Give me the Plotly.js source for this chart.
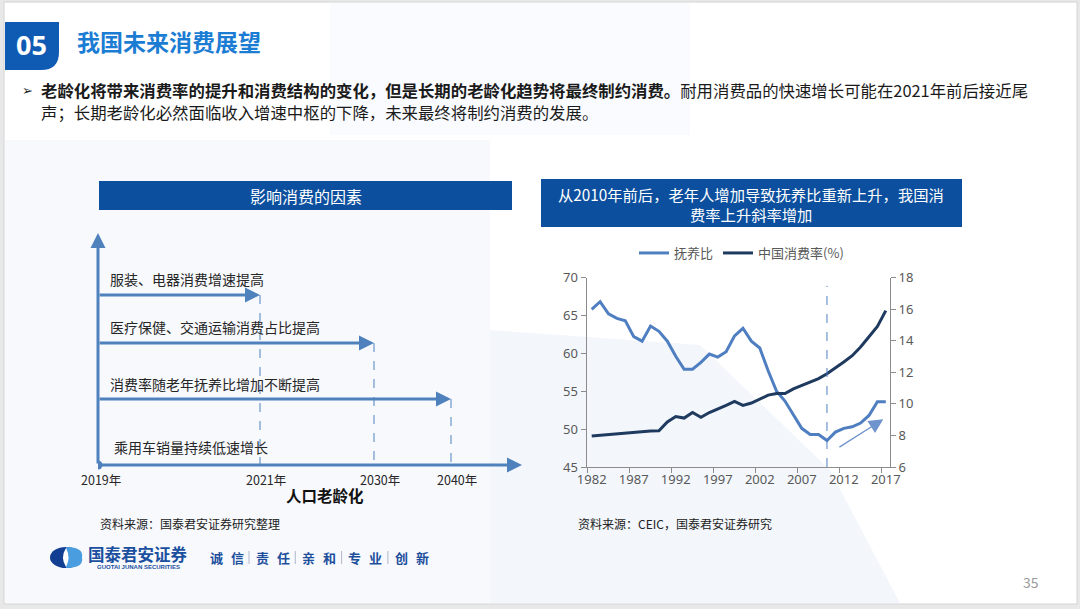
<!DOCTYPE html>
<html><head><meta charset="utf-8">
<script src="https://cdn.plot.ly/plotly-3.0.1.min.js"></script>
<style>html,body{margin:0;padding:0;background:#fff;overflow:hidden}#chart{width:1080px;height:609px}</style>
</head><body><div id="chart"></div>
<script>
// ---------- right chart data ----------
const years = [1982,1983,1984,1985,1986,1987,1988,1989,1990,1991,1992,1993,1994,1995,1996,1997,1998,1999,2000,2001,2002,2003,2004,2005,2006,2007,2008,2009,2010,2011,2012,2013,2014,2015,2016,2017];
const dependencyRatio = [65.8,66.8,65.2,64.6,64.3,62.2,61.6,63.6,62.9,61.6,59.6,57.9,57.9,58.8,59.9,59.5,60.2,62.3,63.3,61.6,60.7,57.7,55.0,53.7,51.9,50.1,49.3,49.3,48.5,49.6,50.1,50.3,50.8,51.8,53.6,53.6];
const consumptionRate = [7.97,8.02,8.07,8.12,8.17,8.22,8.26,8.28,8.3,8.85,9.2,9.1,9.45,9.15,9.45,9.65,9.9,10.15,9.9,10.05,10.3,10.55,10.65,10.65,10.95,11.15,11.35,11.6,11.9,12.25,12.65,13.05,13.6,14.25,14.9,15.9];
const seriesNames = ['抚养比','中国消费率(%)'];
const xTickYears = [1982,1987,1992,1997,2002,2007,2012,2017];
const turningYear = 2010;
const trendArrow = {fromYear: 2011.3, fromValue: 47.5, toYear: 2016.7, toValue: 51.3};

// ---------- left diagram data ----------
const milestones = ['2019年','2021年','2030年','2040年'];
const milestonePos = [0, 162, 276, 353];
const factors = ['服装、电器消费增速提高','医疗保健、交通运输消费占比提高','消费率随老年抚养比增加不断提高','乘用车销量持续低速增长'];
const factorArrowLevel = [170, 122, 66, null];
const factorTextLevel = [186, 138, 81, 18];
const factorReach = [1, 2, 3, null];

// ---------- slide texts ----------
const sectionNo = '05';
const sectionTitle = '我国未来消费展望';
const bulletBold = '老龄化将带来消费率的提升和消费结构的变化，但是长期的老龄化趋势将最终制约消费。';
const bulletLine1 = '耐用消费品的快速增长可能在2021年前后接近尾';
const bulletLine2 = '声；长期老龄化必然面临收入增速中枢的下降，未来最终将制约消费的发展。';
const leftBoxTitle = '影响消费的因素';
const rightBoxTitle = ['从2010年前后，老年人增加导致抚养比重新上升，我国消','费率上升斜率增加'];
const axisTitleLeft = '人口老龄化';
const sourceLeft = '资料来源：国泰君安证券研究整理';
const sourceRight = '资料来源：CEIC，国泰君安证券研究';
const companyName = '国泰君安证券';
const companyEn = 'GUOTAI JUNAN SECURITIES';
const motto = ['诚','信','责','任','亲','和','专','业','创','新'];
const pageNo = '35';

// ---------- helpers ----------
const W = 1080, H = 609;
const X = p => p / W;
const Y = p => 1 - p / H;
const CJK = "'Noto Sans CJK SC', 'Noto Sans', sans-serif";
const BLUE = '#4F7FC0';
const DARK = '#1F3A5F';
const BOXBLUE = '#0B4F9E';
const DIAG = '#4F81BD';

const shapes = [];
const annotations = [];
function rectP(x0,y0,x1,y1,fill,line){shapes.push({type:'rect',xref:'paper',yref:'paper',x0:X(x0),x1:X(x1),y0:Y(y1),y1:Y(y0),fillcolor:fill,line:line||{width:0},layer:'below'});}
function pathP(pts,fill){
  let d = pts.map((p,i)=> (i? 'L':'M') + X(p[0]) + ',' + Y(p[1])).join(' ') + ' Z';
  shapes.push({type:'path',xref:'paper',yref:'paper',path:d,fillcolor:fill,line:{width:0},layer:'below'});
}
function textP(x,y,text,size,color,opts){annotations.push(Object.assign({xref:'paper',yref:'paper',x:X(x),y:Y(y),text:text,showarrow:false,xanchor:'left',yanchor:'middle',font:{family:CJK,size:size,color:color}},opts||{}));}

// slide frame & faint background
rectP(4,2,1077,604,'#ffffff',{color:'#d4d4d4',width:1});
pathP([[330,3],[690,3],[690,135],[330,135]],'#f9fbfe');
pathP([[5,140],[490,140],[490,603],[5,603]],'#f7f9fd');
pathP([[490,330],[700,345],[830,470],[900,603],[490,603]],'#f3f7fc');

// header
shapes.push({type:'path',xref:'paper',yref:'paper',path:`M${X(5)},${Y(22)} L${X(59)},${Y(22)} L${X(59)},${Y(52)} Q${X(59)},${Y(70)} ${X(41)},${Y(70)} L${X(5)},${Y(70)} Z`,fillcolor:'#0F5BB3',line:{width:0},layer:'below'});
textP(31,44,'<b>'+sectionNo+'</b>',27,'#ffffff',{xanchor:'center',font:{family:"'Open Sans', sans-serif",size:27,color:'#ffffff'}});
textP(75,41,'<b>'+sectionTitle+'</b>',23,'#1B7CD3');
textP(20,90,'➢',13,'#222222',{font:{family:"'DejaVu Sans', sans-serif",size:13,color:'#222'}});
textP(39,90,'<b>'+bulletBold+'</b>'+bulletLine1,16.4,'#1a1a1a');
textP(39,112,bulletLine2,16.4,'#1a1a1a');

// left box
rectP(99,181,512,210,BOXBLUE);
textP(306,196,leftBoxTitle,16,'#ffffff',{xanchor:'center'});
// right box
rectP(541,179,962,227,BOXBLUE);
textP(751,193.5,rightBoxTitle[0],15.3,'#ffffff',{xanchor:'center'});
textP(751,213.5,rightBoxTitle[1],15.3,'#ffffff',{xanchor:'center'});

// sources
textP(98,523,sourceLeft,12,'#222222');
textP(576,523,sourceRight,12,'#222222');

// footer logo
shapes.push({type:'circle',xref:'paper',yref:'paper',x0:X(50),x1:X(82),y0:Y(568),y1:Y(547),fillcolor:'#123F91',line:{width:0},layer:'below'});
shapes.push({type:'path',xref:'paper',yref:'paper',path:`M${X(66)},${Y(547)} Q${X(84)},${Y(547)} ${X(82)},${Y(557.5)} Q${X(84)},${Y(568)} ${X(66)},${Y(568)} Z`,fillcolor:'#4A9EE0',line:{width:0},layer:'below'});
shapes.push({type:'path',xref:'paper',yref:'paper',path:`M${X(66)},${Y(548)} Q${X(60)},${Y(557.5)} ${X(66)},${Y(567)} Q${X(71)},${Y(557.5)} ${X(66)},${Y(548)} Z`,fillcolor:'#ffffff',line:{width:0},layer:'below'});
textP(138,553.5,'<b>'+companyName+'</b>',16.5,'#1B4F9F',{xanchor:'center'});
textP(138,567,'<b>'+companyEn+'</b>',6,'#1B4F9F',{xanchor:'center',font:{family:"'Liberation Sans', sans-serif",size:6,color:'#1B4F9F'}});
motto.forEach((c,i)=>{
  const pair = Math.floor(i/2), k = i%2;
  textP(216 + pair*46.3 + k*21, 557, '<b>'+c+'</b>', 13, '#1D4F9C', {xanchor:'center'});
  if (k===1 && pair<4) shapes.push({type:'line',xref:'paper',yref:'paper',x0:X(249+pair*46.3),x1:X(249+pair*46.3),y0:Y(551),y1:Y(564),line:{color:'#b0b8c8',width:1}});
});
textP(1031,582,pageNo,14,'#9a9a9a',{xanchor:'center'});

// ---------- right chart traces ----------
const traces = [];
traces.push({x:years,y:dependencyRatio,name:seriesNames[0],type:'scatter',mode:'lines',line:{color:BLUE,width:3},xaxis:'x',yaxis:'y',hoverinfo:'skip'});
traces.push({x:years,y:consumptionRate,name:seriesNames[1],type:'scatter',mode:'lines',line:{color:DARK,width:3},xaxis:'x',yaxis:'y2',hoverinfo:'skip'});
traces.push({x:[xTickYears[0]],y:[null],xaxis:'x2',yaxis:'y',showlegend:false,hoverinfo:'skip',mode:'lines'});

shapes.push({type:'line',xref:'x',yref:'y',x0:turningYear,x1:turningYear,y0:45,y1:68.9,line:{color:BLUE,width:1,dash:'dash'}});
annotations.push({xref:'x',yref:'y',axref:'x',ayref:'y',x:trendArrow.toYear,y:trendArrow.toValue,ax:trendArrow.fromYear,ay:trendArrow.fromValue,text:'',showarrow:true,arrowhead:2,arrowsize:2.2,arrowwidth:1.3,arrowcolor:'#6F93CC',standoff:0});

// ---------- left diagram ----------
traces.push({x:[milestonePos[0]],y:[0],xaxis:'x3',yaxis:'y3',mode:'markers',marker:{color:DIAG,size:9},showlegend:false,hoverinfo:'skip'});
annotations.push({xref:'x3',yref:'y3',axref:'x3',ayref:'y3',x:424,y:0,ax:0,ay:0,text:'',showarrow:true,arrowhead:2,arrowsize:1,arrowwidth:3,arrowcolor:DIAG,standoff:0});
annotations.push({xref:'x3',yref:'y3',axref:'x3',ayref:'y3',x:0,y:232,ax:0,ay:0,text:'',showarrow:true,arrowhead:2,arrowsize:1,arrowwidth:3,arrowcolor:DIAG,standoff:0});
factors.forEach((f,i)=>{
  annotations.push({xref:'x3',yref:'y3',x:i===3?14:10,y:factorTextLevel[i],text:f,showarrow:false,xanchor:'left',yanchor:'middle',font:{family:CJK,size:14,color:'#262626'}});
  if (factorReach[i]!==null){
    const endX = milestonePos[factorReach[i]];
    annotations.push({xref:'x3',yref:'y3',axref:'x3',ayref:'y3',x:endX,y:factorArrowLevel[i],ax:0,ay:factorArrowLevel[i],text:'',showarrow:true,arrowhead:2,arrowsize:1,arrowwidth:3,arrowcolor:DIAG,standoff:0});
    traces.push({x:[endX,endX],y:[factorArrowLevel[i],0],xaxis:'x3',yaxis:'y3',mode:'lines',line:{color:DIAG,width:1,dash:'dash'},showlegend:false,hoverinfo:'skip'});
  }
});
milestones.forEach((m,i)=>{
  annotations.push({xref:'x3',yref:'y3',x:milestonePos[i]+(i===0?3:6),y:-14,text:m,showarrow:false,xanchor:'center',yanchor:'middle',font:{family:CJK,size:12.5,color:'#262626'}});
});
annotations.push({xref:'x3',yref:'y3',x:227,y:-30,text:'<b>'+axisTitleLeft+'</b>',showarrow:false,xanchor:'center',yanchor:'middle',font:{family:CJK,size:15.5,color:'#111111'}});

const axisCommon = {showgrid:false,zeroline:false,fixedrange:true};
const layout = {
  width:W,height:H,margin:{l:0,r:0,t:0,b:0},
  paper_bgcolor:'#e8e8e8',plot_bgcolor:'rgba(0,0,0,0)',
  font:{family:CJK,color:'#595959'},
  showlegend:true,
  legend:{orientation:'h',x:X(634),y:Y(238),xanchor:'left',yanchor:'top',font:{family:CJK,size:13,color:'#595959'},bgcolor:'rgba(0,0,0,0)',itemwidth:30,tracegroupgap:0},
  xaxis:Object.assign({},axisCommon,{domain:[X(586.5),X(890)],range:[1981.38,2017.5],tickmode:'array',tickvals:xTickYears,ticks:'',showline:true,linecolor:'#8c8c8c',linewidth:1,tickfont:{size:13,color:'#595959',family:"'Noto Sans', sans-serif"},anchor:'y'}),
  xaxis2:Object.assign({},axisCommon,{domain:[X(586.5),X(890)],range:[1981.38,2017.5],overlaying:'x',anchor:'y',side:'bottom',tickmode:'array',tickvals:xTickYears.map(v=>v-0.5),ticks:'outside',ticklen:5,tickcolor:'#8c8c8c',showticklabels:false,showline:false}),
  yaxis:Object.assign({},axisCommon,{domain:[Y(467),Y(277.5)],range:[45,70],dtick:5,tick0:45,ticks:'outside',ticklen:5,tickcolor:'#8c8c8c',showline:true,linecolor:'#8c8c8c',linewidth:1,tickfont:{size:13,color:'#595959',family:"'Noto Sans', sans-serif"},anchor:'x'}),
  yaxis2:Object.assign({},axisCommon,{domain:[Y(467),Y(277.5)],range:[6,18],dtick:2,tick0:6,overlaying:'y',side:'right',anchor:'x',ticks:'outside',ticklen:5,tickcolor:'#8c8c8c',showline:true,linecolor:'#8c8c8c',linewidth:1,tickfont:{size:13,color:'#595959',family:"'Noto Sans', sans-serif"}}),
  xaxis3:Object.assign({},axisCommon,{domain:[X(98),X(528)],range:[0,430],visible:false,anchor:'y3'}),
  yaxis3:Object.assign({},axisCommon,{domain:[Y(505),Y(233)],range:[-40,232],visible:false,anchor:'x3'}),
  shapes:shapes,
  annotations:annotations
};
Plotly.newPlot('chart',traces,layout,{displayModeBar:false,staticPlot:true});
</script></body></html>
